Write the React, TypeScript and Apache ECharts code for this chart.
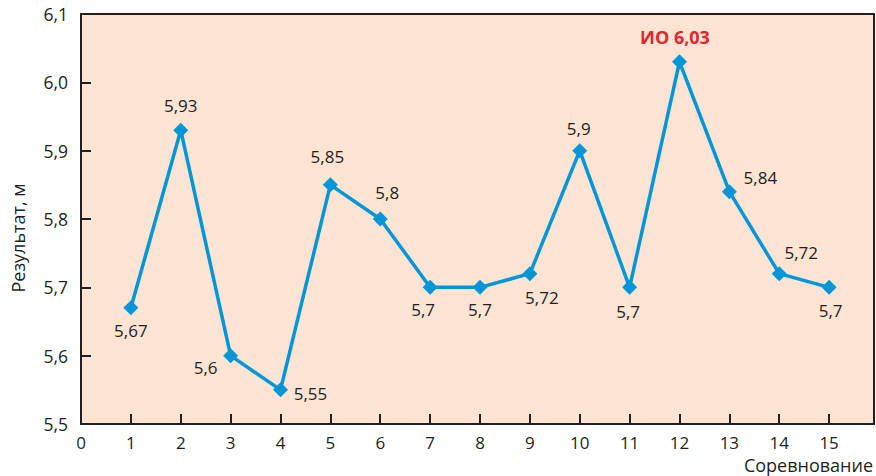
import React, { useEffect, useRef } from "react";
import * as echarts from "echarts";

const competitions = [1, 2, 3, 4, 5, 6, 7, 8, 9, 10, 11, 12, 13, 14, 15];
const results = [5.67, 5.93, 5.6, 5.55, 5.85, 5.8, 5.7, 5.7, 5.72, 5.9, 5.7, 6.03, 5.84, 5.72, 5.7];
const recordIndex = 11;
const recordPrefix = "ИО ";
const yAxisTitle = "Результат, м";
const xAxisTitle = "Соревнование";

// label offsets (style only) relative to each marker centre
const labelOffsets: [number, number][] = [
  [0, 23], [0, -25], [-25, 12], [30, 4], [-3, -28],
  [7, -27], [-7, 22], [0, 22], [12, 24], [-1, -22],
  [-1.5, 24], [-4.5, -24.5], [31, -14], [22, -21], [1.5, 23],
];

const fmt = (v: number) => String(v).replace(".", ",");

export default function App() {
  const ref = useRef<HTMLDivElement>(null);
  useEffect(() => {
    if (!ref.current) return;
    const chart = echarts.init(ref.current, undefined, { renderer: "svg" });
    const font = "'Open Sans', sans-serif";
    const dark = "#231f20";
    const data = competitions.map((c, i) => {
      const isRec = i === recordIndex;
      return {
        value: [c, results[i]],
        label: {
          show: true,
          position: "inside",
          offset: labelOffsets[i],
          formatter: (isRec ? recordPrefix : "") + fmt(results[i]),
          color: isRec ? "#e52530" : dark,
          fontWeight: isRec ? "bold" : "normal",
          fontSize: isRec ? 18 : 17,
          fontFamily: font,
          align: "center",
          verticalAlign: "middle",
        },
      };
    });
    chart.setOption({
      animation: false,
      backgroundColor: "#ffffff",
      grid: {
        left: 81,
        right: 2,
        top: 14,
        bottom: 52,
        show: true,
        backgroundColor: "#fde4d3",
        borderColor: dark,
        borderWidth: 2,
      },
      xAxis: {
        type: "value",
        min: 0,
        max: 15.9,
        interval: 1,
        axisLine: { show: true, lineStyle: { color: dark, width: 2 } },
        axisTick: { show: true, inside: true, length: 10, lineStyle: { color: dark, width: 2 } },
        splitLine: { show: false },
        axisLabel: {
          showMaxLabel: false,
          margin: 9,
          color: dark,
          fontSize: 17,
          lineHeight: 18,
          fontFamily: font,
          formatter: (v: number) => (Number.isInteger(v) ? String(v) : ""),
        },
      },
      yAxis: {
        type: "value",
        min: 5.5,
        max: 6.1,
        interval: 0.1,
        axisLine: { show: true, lineStyle: { color: dark, width: 2 } },
        axisTick: { show: true, inside: true, length: 10, lineStyle: { color: dark, width: 2 } },
        splitLine: { show: false },
        axisLabel: {
          margin: 13,
          color: dark,
          fontSize: 17.5,
          fontFamily: font,
          formatter: (v: number) => v.toFixed(1).replace(".", ","),
        },
      },
      graphic: [
        {
          type: "text",
          x: 18,
          y: 238,
          rotation: Math.PI / 2,
          style: {
            text: yAxisTitle,
            fill: dark,
            font: `18px ${font}`,
            align: "center",
            verticalAlign: "middle",
          },
        },
        {
          type: "text",
          x: 873,
          y: 465,
          style: {
            text: xAxisTitle,
            fill: dark,
            font: `18px ${font}`,
            lineHeight: 18,
            align: "right",
            verticalAlign: "middle",
          },
        },
      ],
      series: [
        {
          type: "line",
          data,
          symbol: "diamond",
          symbolSize: 15,
          itemStyle: { color: "#0096d8" },
          lineStyle: { color: "#0096d8", width: 3.5 },
        },
      ],
    });
    return () => chart.dispose();
  }, []);
  return (
    <div
      ref={ref}
      style={{ position: "fixed", left: 0, top: 0, width: 876, height: 476 }}
    />
  );
}
